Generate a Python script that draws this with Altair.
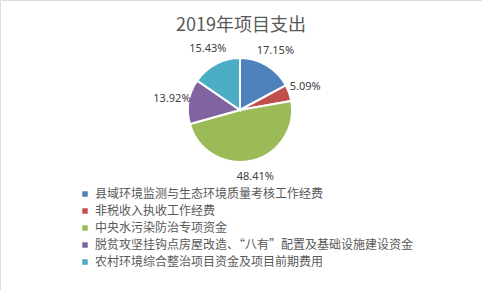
import altair as alt
import pandas as pd

categories = [
    "县域环境监测与生态环境质量考核工作经费",
    "非税收入执收工作经费",
    "中央水污染防治专项资金",
    "脱贫攻坚挂钩点房屋改造、“八有”配置及基础设施建设资金",
    "农村环境综合整治项目资金及项目前期费用",
]
values = [17.15, 5.09, 48.41, 13.92, 15.43]
colors = ["#4F81BD", "#C0504D", "#9BBB59", "#8064A2", "#4BACC6"]

df = pd.DataFrame({
    "category": categories,
    "value": values,
    "order": list(range(len(categories))),
    "label": [f"{v:.2f}%" for v in values],
})

FONT = "Noto Sans CJK SC"
W, H = 482, 290
CX, CY, R = 240, 110, 52

base = alt.Chart(df).encode(
    theta=alt.Theta("value:Q", stack=True),
    order=alt.Order("order:Q"),
)

pie = base.mark_arc(radius=R, stroke="white", strokeWidth=2).encode(
    x=alt.value(CX),
    y=alt.value(CY),
    color=alt.Color(
        "category:N",
        scale=alt.Scale(domain=categories, range=colors),
        sort=categories,
        legend=alt.Legend(
            title=None,
            orient="none",
            legendX=79,
            legendY=188,
            symbolType="square",
            symbolSize=30,
            symbolStrokeWidth=0,
            labelFontSize=12,
            labelFont=FONT,
            labelColor="#595959",
            labelLimit=400,
            labelOffset=4,
            rowPadding=5,
        ),
    ),
)

labels = base.mark_text(
    radius=R + 17, fontSize=11, font="Noto Sans", color="#404040"
).encode(
    x=alt.value(CX),
    y=alt.value(CY),
    text="label:N",
)

chart = (
    alt.layer(pie, labels)
    .properties(
        width=W,
        height=H,
        padding=0,
        autosize=alt.AutoSizeParams(type="none"),
        title=alt.TitleParams(
            "2019年项目支出",
            font=FONT,
            fontSize=18,
            fontWeight="normal",
            color="#595959",
            anchor="middle",
            offset=-35,
        ),
    )
    .configure_view(stroke="#d9d9d9", strokeWidth=1)
    .configure(background="white")
)

chart.save("out.html", embed_options={"renderer": "svg", "actions": False})
